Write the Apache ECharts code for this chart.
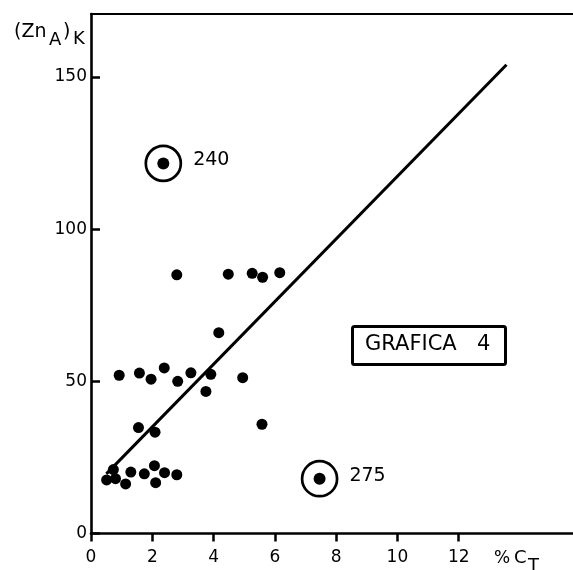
<!DOCTYPE html>
<html>
<head>
<meta charset="utf-8">
<script src="https://cdn.jsdelivr.net/npm/echarts@6/dist/echarts.min.js"></script>
<style>html,body{margin:0;padding:0;background:#fff}#c{width:573px;height:570px}</style>
</head>
<body>
<div id="c"></div>
<script>
// ---- data ----
const pctC = [2.80, 4.48, 5.26, 5.60, 6.16, 4.17,
  0.92, 1.58, 1.96, 2.39, 2.83, 3.26, 3.91, 3.75, 4.95,
  5.58, 1.55, 2.09,
  0.51, 0.73, 0.80, 1.13, 1.30, 1.74, 2.07, 2.11, 2.40, 2.80];
const znA = [85.0, 85.2, 85.5, 84.2, 85.7, 66.0,
  52.0, 52.7, 50.7, 54.4, 50.0, 52.8, 52.3, 46.7, 51.2,
  35.9, 34.8, 33.3,
  17.6, 21.0, 18.0, 16.3, 20.2, 19.6, 22.3, 16.7, 20.0, 19.3];
const outlierX = [2.36, 7.46];
const outlierY = [121.6, 18.0];
const outlierLabels = ['240', '275'];
const fitX = [0.5, 13.56];
const fitY = [19.6, 154.0];
const xTicks = [0, 2, 4, 6, 8, 10, 12];
const yTicks = [0, 50, 100, 150];
const boxWord = 'GRAFICA';
const boxNumber = '4';

// ---- chart ----
const FONT = '"DejaVu Sans", "Liberation Sans", sans-serif';
const chart = echarts.init(document.getElementById('c'), null, {renderer: 'canvas'});
const pts = pctC.map((x, i) => [x, znA[i]]);
const outl = outlierX.map((x, i) => [x, outlierY[i]]);
const fit = fitX.map((x, i) => [x, fitY[i]]);

const txt = (left, top, text, size) => ({
  type: 'text', left, top,
  style: {text, fontSize: size, fontFamily: FONT, fill: '#000'}
});

chart.setOption({
  animation: false,
  backgroundColor: '#fff',
  grid: {left: 91, right: 0, top: 14, bottom: 36.5, containLabel: false},
  xAxis: [{
    type: 'value', min: 0, max: 15.73, position: 'bottom',
    splitLine: {show: false},
    axisLine: {show: true, onZero: false, lineStyle: {color: '#000', width: 2.6}},
    axisTick: {show: true, inside: false, length: 8, customValues: xTicks, lineStyle: {color: '#000', width: 2.5}},
    axisLabel: {show: true, customValues: xTicks, margin: 16, color: '#000', fontSize: 17, fontFamily: FONT}
  }, {
    type: 'value', min: 0, max: 15.73, position: 'top',
    splitLine: {show: false},
    axisLine: {show: true, onZero: false, lineStyle: {color: '#000', width: 2.2}},
    axisTick: {show: false}, axisLabel: {show: false}
  }],
  yAxis: {
    type: 'value', min: 0, max: 170.7,
    splitLine: {show: false},
    axisLine: {show: true, onZero: false, lineStyle: {color: '#000', width: 2.6}},
    axisTick: {show: true, inside: true, length: 9, customValues: yTicks, lineStyle: {color: '#000', width: 2.5}},
    axisLabel: {show: true, customValues: yTicks, margin: 4, color: '#000', fontSize: 17, fontFamily: FONT}
  },
  series: [
    {
      type: 'line', data: fit, symbol: 'none', silent: true,
      lineStyle: {color: '#000', width: 3}
    },
    {
      type: 'scatter', data: pts, symbol: 'circle', symbolSize: 11,
      itemStyle: {color: '#000', opacity: 1}
    },
    {
      type: 'scatter', data: outl, symbol: 'circle', symbolSize: 35,
      itemStyle: {color: 'rgba(0,0,0,0)', borderColor: '#000', borderWidth: 2.7, opacity: 1},
      label: {
        show: true, position: 'right', distance: 11, offset: [0, -3],
        formatter: p => outlierLabels[p.dataIndex],
        color: '#000', fontSize: 19, fontFamily: FONT
      }
    },
    {
      type: 'scatter', data: outl, symbol: 'circle', symbolSize: 12,
      itemStyle: {color: '#000', opacity: 1}
    }
  ],
  graphic: [
    txt(14, 23, '(Zn', 19),
    txt(49, 31.5, 'A', 18),
    txt(63, 23, ')', 19),
    txt(73, 30.5, 'K', 18),
    txt(494, 550, '%', 17),
    txt(514, 549, 'C', 18),
    txt(528, 557, 'T', 18),
    {
      type: 'rect', left: 351, top: 325,
      shape: {width: 153, height: 38, r: 2},
      style: {fill: '#fff', stroke: '#000', lineWidth: 3}
    },
    txt(365, 334, boxWord, 21),
    txt(477, 334, boxNumber, 21)
  ]
});
</script>
</body>
</html>
